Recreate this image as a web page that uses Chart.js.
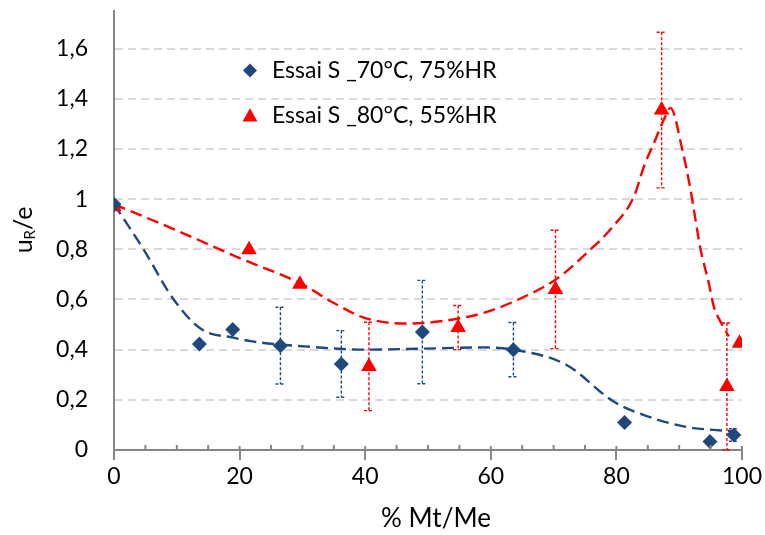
<!DOCTYPE html>
<html>
<head>
<meta charset="utf-8">
<script src="https://cdn.jsdelivr.net/npm/chart.js@4.4.0/dist/chart.umd.min.js"></script>
<style>
  body { margin: 0; background: #fff; }
  #chart { display: block; }
</style>
</head>
<body>
<canvas id="chart" width="765" height="535"></canvas>
<script>
// Essai S _70°C, 75%HR
const blueX = [0, 13.6, 18.9, 26.5, 36.2, 49.1, 63.6, 81.3, 94.9, 98.7];
const blueY = [0.98, 0.423, 0.48, 0.416, 0.343, 0.47, 0.40, 0.11, 0.034, 0.06];
const blueErr = [0, 0, 0, 0.153, 0.133, 0.206, 0.108, 0, 0, 0.025];

// Essai S _80°C, 55%HR
const redX = [0, 21.5, 29.6, 40.6, 54.8, 70.3, 87.2, 97.6, 99.6];
const redY = [0.97, 0.798, 0.661, 0.333, 0.488, 0.64, 1.355, 0.253, 0.426];
const redErr = [0, 0, 0, 0.176, 0.088, 0.236, 0.31, 0.253, 0];

// courbes de tendance
const blueTrendX = [0, 4.7, 9.5, 14, 19, 22, 32, 40, 49, 59, 63.6, 72, 79.5, 84.3, 90.7, 98.6];
const blueTrendY = [0.98, 0.80, 0.60, 0.48, 0.448, 0.433, 0.41, 0.40, 0.404, 0.409, 0.40, 0.34, 0.194, 0.14, 0.094, 0.074];
const redTrendX = [0, 10, 20, 30, 35, 40, 46.6, 52, 58.8, 63.1, 70.3, 75.9, 79, 82.8, 84.4, 86.2, 87.8, 88.6, 90.5, 91.8, 93.4, 94.7, 95.5, 96.6, 97.9];
const redTrendY = [0.98, 0.875, 0.765, 0.66, 0.586, 0.526, 0.504, 0.513, 0.546, 0.586, 0.679, 0.80, 0.878, 1.011, 1.131, 1.237, 1.33, 1.364, 1.197, 1.038, 0.80, 0.667, 0.573, 0.51, 0.453];

const seriesLabels = ['Essai S _70°C, 75%HR', 'Essai S _80°C, 55%HR'];
const yTicks = [0, 0.2, 0.4, 0.6, 0.8, 1, 1.2, 1.4, 1.6];

const blue = '#1F497D';
const red = '#FF0000';
const axisGray = '#868686';
const gridGray = '#D9D9D9';
const fontName = 'Lato';

function toPoints(xs, ys) {
    return xs.map((x, i) => ({ x: x, y: ys[i] }));
}

function drawErrorBars(ctx, xs, ys, px, py, err, color) {
    ctx.save();
    ctx.strokeStyle = color;
    ctx.lineWidth = 1.4;
    ctx.setLineDash([3, 2]);
    px.forEach((x, i) => {
        if (!err[i]) return;
        const cx = xs.getPixelForValue(x);
        const top = ys.getPixelForValue(py[i] + err[i]);
        const bot = ys.getPixelForValue(py[i] - err[i]);
        ctx.beginPath();
        ctx.moveTo(cx, top);
        ctx.lineTo(cx, bot);
        ctx.moveTo(cx - 5, top);
        ctx.lineTo(cx + 5, top);
        ctx.moveTo(cx - 5, bot);
        ctx.lineTo(cx + 5, bot);
        ctx.stroke();
    });
    ctx.restore();
}

const extras = {
    id: 'extras',
    beforeDatasetsDraw(chart) {
        const ctx = chart.ctx;
        drawErrorBars(ctx, chart.scales.x, chart.scales.y, blueX, blueY, blueErr, blue);
        drawErrorBars(ctx, chart.scales.x, chart.scales.y, redX, redY, redErr, red);
    },
    afterDraw(chart) {
        const ctx = chart.ctx;
        const xs = chart.scales.x;
        const area = chart.chartArea;

        // petites graduations au-dessus de l'axe x
        ctx.save();
        ctx.strokeStyle = axisGray;
        ctx.lineWidth = 2;
        for (let v = 5; v <= 100; v += 5) {
            const px = xs.getPixelForValue(v);
            ctx.beginPath();
            ctx.moveTo(px, area.bottom - (v % 20 === 0 ? 4 : 5));
            ctx.lineTo(px, area.bottom);
            ctx.stroke();
        }
        ctx.restore();

        // titres des axes
        ctx.save();
        ctx.fillStyle = '#000';
        ctx.textBaseline = 'middle';
        ctx.textAlign = 'center';
        ctx.font = '26px ' + fontName;
        ctx.fillText('% Mt/Me', 436, 519);

        ctx.translate(24, 230);
        ctx.rotate(-Math.PI / 2);
        ctx.textAlign = 'left';
        const big = '25px ' + fontName, small = '15px ' + fontName;
        ctx.font = big;
        const wu = ctx.measureText('u').width;
        const we = ctx.measureText('/e').width;
        ctx.font = small;
        const wr = ctx.measureText('R').width;
        let x0 = -(wu + wr + we) / 2;
        ctx.font = big;
        ctx.fillText('u', x0, 0);
        ctx.font = small;
        ctx.fillText('R', x0 + wu, 6);
        ctx.font = big;
        ctx.fillText('/e', x0 + wu + wr, 0);
        ctx.restore();

        // legende
        ctx.save();
        ctx.fillStyle = blue;
        ctx.beginPath();
        ctx.moveTo(250, 63.5);
        ctx.lineTo(257, 70.5);
        ctx.lineTo(250, 77.5);
        ctx.lineTo(243, 70.5);
        ctx.closePath();
        ctx.fill();
        ctx.fillStyle = red;
        ctx.beginPath();
        ctx.moveTo(250, 108.3);
        ctx.lineTo(257.5, 121.5);
        ctx.lineTo(242.5, 121.5);
        ctx.closePath();
        ctx.fill();
        ctx.fillStyle = '#000';
        ctx.font = '23px ' + fontName;
        ctx.textBaseline = 'middle';
        ctx.fillText(seriesLabels[0], 272, 71);
        ctx.fillText(seriesLabels[1], 272, 116);
        ctx.restore();
    }
};

const ctx = document.getElementById('chart').getContext('2d');
new Chart(ctx, {
    type: 'scatter',
    data: {
        datasets: [{
            label: seriesLabels[0],
            data: toPoints(blueX, blueY),
            pointStyle: 'rectRot',
            pointRadius: 7.5,
            backgroundColor: blue,
            borderColor: blue,
            borderWidth: 0,
            order: 0
        }, {
            label: seriesLabels[1],
            data: toPoints(redX, redY),
            pointStyle: 'triangle',
            pointRadius: 9,
            backgroundColor: red,
            borderColor: red,
            borderWidth: 0,
            order: 0
        }, {
            label: 'tendance 70',
            type: 'line',
            data: toPoints(blueTrendX, blueTrendY),
            borderColor: blue,
            borderWidth: 2.4,
            borderDash: [12, 6],
            pointRadius: 0,
            fill: false,
            cubicInterpolationMode: 'monotone',
            order: 1
        }, {
            label: 'tendance 80',
            type: 'line',
            data: toPoints(redTrendX, redTrendY),
            borderColor: red,
            borderWidth: 2.4,
            borderDash: [12, 6],
            pointRadius: 0,
            fill: false,
            cubicInterpolationMode: 'monotone',
            order: 1
        }]
    },
    options: {
        responsive: false,
        animation: false,
        layout: {
            padding: { top: 11, right: 23, left: 0, bottom: 0 }
        },
        plugins: {
            legend: { display: false },
            tooltip: { enabled: false }
        },
        scales: {
            x: {
                type: 'linear',
                min: 0,
                max: 100,
                ticks: {
                    stepSize: 20,
                    color: '#000',
                    padding: 3,
                    font: { family: fontName, size: 23 }
                },
                grid: {
                    drawOnChartArea: false,
                    tickLength: 10,
                    color: axisGray,
                    lineWidth: 2
                },
                border: { color: axisGray, width: 2 },
                afterFit: function(scale) {
                    scale.height = 85;
                    scale.paddingLeft = 0;
                    scale.paddingRight = 0;
                }
            },
            y: {
                type: 'linear',
                min: 0,
                max: 1.75,
                afterBuildTicks: function(scale) {
                    scale.ticks = yTicks.map(v => ({ value: v }));
                },
                ticks: {
                    color: '#000',
                    padding: 26,
                    font: { family: fontName, size: 23 },
                    callback: function(value) {
                        return String(value).replace('.', ',');
                    }
                },
                grid: {
                    drawTicks: false,
                    lineWidth: 2,
                    color: function(context) {
                        return context.tick && context.tick.value === 0 ? 'rgba(0,0,0,0)' : gridGray;
                    }
                },
                border: { color: axisGray, width: 2, dash: [8, 5] },
                afterFit: function(scale) {
                    scale.width = 114;
                    scale.paddingTop = 0;
                    scale.paddingBottom = 0;
                }
            }
        }
    },
    plugins: [extras]
});
</script>
</body>
</html>
